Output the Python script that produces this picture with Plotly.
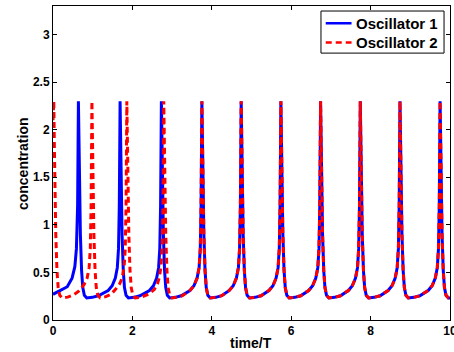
import plotly.graph_objects as go

# Oscillator 1 (blue, solid)
t_osc1 = [
    0.00, 0.19, 0.36, 0.48, 0.55, 0.59, 0.62, 0.64,
    0.655, 0.67, 0.69, 0.72, 0.75, 0.79, 0.85, 0.99, 1.14, 1.39, 1.49, 1.57, 1.62, 1.65, 1.67, 1.69,
    1.705, 1.72, 1.74, 1.77, 1.80, 1.84, 1.90, 2.04, 2.19, 2.43, 2.53, 2.61, 2.66, 2.69, 2.71, 2.73,
    2.745, 2.76, 2.78, 2.81, 2.84, 2.88, 2.94, 3.08, 3.23, 3.45, 3.55, 3.63, 3.68, 3.71, 3.73, 3.75,
    3.765, 3.78, 3.80, 3.83, 3.86, 3.90, 3.96, 4.10, 4.25, 4.44, 4.54, 4.62, 4.67, 4.70, 4.72, 4.74,
    4.755, 4.77, 4.79, 4.82, 4.85, 4.89, 4.95, 5.09, 5.24, 5.44, 5.54, 5.62, 5.67, 5.70, 5.72, 5.74,
    5.755, 5.77, 5.79, 5.82, 5.85, 5.89, 5.95, 6.09, 6.24, 6.44, 6.54, 6.62, 6.67, 6.70, 6.72, 6.74,
    6.755, 6.77, 6.79, 6.82, 6.85, 6.89, 6.95, 7.09, 7.24, 7.44, 7.54, 7.62, 7.67, 7.70, 7.72, 7.74,
    7.755, 7.77, 7.79, 7.82, 7.85, 7.89, 7.95, 8.09, 8.24, 8.44, 8.54, 8.62, 8.67, 8.70, 8.72, 8.74,
    8.755, 8.77, 8.79, 8.82, 8.85, 8.89, 8.95, 9.09, 9.24, 9.45, 9.55, 9.63, 9.68, 9.71, 9.73, 9.75,
    9.765, 9.78, 9.80, 9.83, 9.86, 9.90, 9.96, 10.00,
]
c_osc1 = [
    0.27, 0.31, 0.35, 0.44, 0.56, 0.75, 1.20, 2.30,
    1.80, 1.35, 0.90, 0.52, 0.34, 0.26, 0.232, 0.238, 0.255, 0.31, 0.36, 0.44, 0.55, 0.75, 1.20, 2.30,
    1.80, 1.35, 0.90, 0.52, 0.34, 0.26, 0.232, 0.238, 0.255, 0.31, 0.36, 0.44, 0.55, 0.75, 1.20, 2.30,
    1.80, 1.35, 0.90, 0.52, 0.34, 0.26, 0.232, 0.238, 0.255, 0.31, 0.36, 0.44, 0.55, 0.75, 1.20, 2.30,
    1.80, 1.35, 0.90, 0.52, 0.34, 0.26, 0.232, 0.238, 0.255, 0.31, 0.36, 0.44, 0.55, 0.75, 1.20, 2.30,
    1.80, 1.35, 0.90, 0.52, 0.34, 0.26, 0.232, 0.238, 0.255, 0.31, 0.36, 0.44, 0.55, 0.75, 1.20, 2.30,
    1.80, 1.35, 0.90, 0.52, 0.34, 0.26, 0.232, 0.238, 0.255, 0.31, 0.36, 0.44, 0.55, 0.75, 1.20, 2.30,
    1.80, 1.35, 0.90, 0.52, 0.34, 0.26, 0.232, 0.238, 0.255, 0.31, 0.36, 0.44, 0.55, 0.75, 1.20, 2.30,
    1.80, 1.35, 0.90, 0.52, 0.34, 0.26, 0.232, 0.238, 0.255, 0.31, 0.36, 0.44, 0.55, 0.75, 1.20, 2.30,
    1.80, 1.35, 0.90, 0.52, 0.34, 0.26, 0.232, 0.238, 0.255, 0.31, 0.36, 0.44, 0.55, 0.75, 1.20, 2.30,
    1.80, 1.35, 0.90, 0.52, 0.34, 0.26, 0.232, 0.232,
]

# Oscillator 2 (red, dashed)
t_osc2 = [
    0.00, 0.02,
    0.035, 0.05, 0.07, 0.10, 0.13, 0.17, 0.23, 0.37, 0.52, 0.64, 0.78, 0.86, 0.91, 0.94, 0.96, 0.98,
    0.995, 1.01, 1.03, 1.06, 1.09, 1.13, 1.19, 1.33, 1.46, 1.57, 1.68, 1.74, 1.79, 1.82, 1.84, 1.86,
    1.875, 1.89, 1.91, 1.94, 1.97, 2.01, 2.07, 2.21, 2.41, 2.55, 2.63, 2.68, 2.72, 2.75, 2.77, 2.79,
    2.805, 2.82, 2.84, 2.87, 2.90, 2.94, 3.00, 3.12, 3.26, 3.45, 3.55, 3.63, 3.68, 3.71, 3.73, 3.75,
    3.765, 3.78, 3.80, 3.83, 3.86, 3.90, 3.96, 4.10, 4.25, 4.44, 4.54, 4.62, 4.67, 4.70, 4.72, 4.74,
    4.755, 4.77, 4.79, 4.82, 4.85, 4.89, 4.95, 5.09, 5.24, 5.44, 5.54, 5.62, 5.67, 5.70, 5.72, 5.74,
    5.755, 5.77, 5.79, 5.82, 5.85, 5.89, 5.95, 6.09, 6.24, 6.44, 6.54, 6.62, 6.67, 6.70, 6.72, 6.74,
    6.755, 6.77, 6.79, 6.82, 6.85, 6.89, 6.95, 7.09, 7.24, 7.44, 7.54, 7.62, 7.67, 7.70, 7.72, 7.74,
    7.755, 7.77, 7.79, 7.82, 7.85, 7.89, 7.95, 8.09, 8.24, 8.44, 8.54, 8.62, 8.67, 8.70, 8.72, 8.74,
    8.755, 8.77, 8.79, 8.82, 8.85, 8.89, 8.95, 9.09, 9.24, 9.45, 9.55, 9.63, 9.68, 9.71, 9.73, 9.75,
    9.765, 9.78, 9.80, 9.83, 9.86, 9.90, 9.96, 10.00,
]
c_osc2 = [
    2.10, 2.30,
    1.80, 1.35, 0.90, 0.52, 0.34, 0.26, 0.232, 0.240, 0.265, 0.30, 0.37, 0.44, 0.55, 0.75, 1.20, 2.30,
    1.80, 1.35, 0.90, 0.52, 0.34, 0.26, 0.232, 0.245, 0.27, 0.32, 0.38, 0.44, 0.55, 0.75, 1.20, 2.30,
    1.80, 1.35, 0.90, 0.52, 0.34, 0.26, 0.232, 0.240, 0.27, 0.32, 0.38, 0.45, 0.56, 0.78, 1.20, 2.30,
    1.80, 1.35, 0.90, 0.52, 0.34, 0.26, 0.232, 0.238, 0.255, 0.31, 0.36, 0.44, 0.55, 0.75, 1.20, 2.30,
    1.80, 1.35, 0.90, 0.52, 0.34, 0.26, 0.232, 0.238, 0.255, 0.31, 0.36, 0.44, 0.55, 0.75, 1.20, 2.30,
    1.80, 1.35, 0.90, 0.52, 0.34, 0.26, 0.232, 0.238, 0.255, 0.31, 0.36, 0.44, 0.55, 0.75, 1.20, 2.30,
    1.80, 1.35, 0.90, 0.52, 0.34, 0.26, 0.232, 0.238, 0.255, 0.31, 0.36, 0.44, 0.55, 0.75, 1.20, 2.30,
    1.80, 1.35, 0.90, 0.52, 0.34, 0.26, 0.232, 0.238, 0.255, 0.31, 0.36, 0.44, 0.55, 0.75, 1.20, 2.30,
    1.80, 1.35, 0.90, 0.52, 0.34, 0.26, 0.232, 0.238, 0.255, 0.31, 0.36, 0.44, 0.55, 0.75, 1.20, 2.30,
    1.80, 1.35, 0.90, 0.52, 0.34, 0.26, 0.232, 0.238, 0.255, 0.31, 0.36, 0.44, 0.55, 0.75, 1.20, 2.30,
    1.80, 1.35, 0.90, 0.52, 0.34, 0.26, 0.232, 0.232,
]

series_names = ["Oscillator 1", "Oscillator 2"]
x_ticks = [0, 2, 4, 6, 8, 10]
x_tick_labels = ["0", "2", "4", "6", "8", "10"]
y_ticks = [0, 0.5, 1, 1.5, 2, 2.5, 3]
y_tick_labels = ["0", "0.5", "1", "1.5", "2", "2.5", "3"]

FONT = "Liberation Sans, Arial, sans-serif"
COLORS = ["#0000ff", "#ff0000"]
DASHES = ["solid", "6px,4px"]

fig = go.Figure()
fig.add_trace(go.Scatter(x=t_osc1, y=c_osc1, mode="lines", name=series_names[0],
                         showlegend=False,
                         line=dict(color=COLORS[0], width=3, dash=DASHES[0])))
fig.add_trace(go.Scatter(x=t_osc2, y=c_osc2, mode="lines", name=series_names[1],
                         showlegend=False,
                         line=dict(color=COLORS[1], width=3, dash=DASHES[1])))

axis_common = dict(showline=True, linecolor="black", linewidth=1, mirror="ticks",
                   ticks="inside", ticklen=4, tickcolor="black", showgrid=False,
                   zeroline=False, automargin=False, ticklabeloverflow="allow",
                   tickfont=dict(family=FONT, size=12, color="black"))

# Legend box (MATLAB style) drawn in paper coordinates
shapes = [dict(type="rect", xref="paper", yref="paper", x0=0.675, x1=0.985,
               y0=0.850, y1=0.984, line=dict(color="black", width=1),
               fillcolor="white", layer="above")]
annotations = []
row_y = [0.945, 0.884]
for name, col, dash, yy in zip(series_names, COLORS, DASHES, row_y):
    shapes.append(dict(type="line", xref="paper", yref="paper", x0=0.687, x1=0.752,
                       y0=yy, y1=yy, line=dict(color=col, width=2.5, dash=dash),
                       layer="above"))
    annotations.append(dict(text="<b>%s</b>" % name, xref="paper", yref="paper",
                            x=0.758, y=yy, xanchor="left", yanchor="middle",
                            showarrow=False,
                            font=dict(family=FONT, size=15, color="black")))

annotations += [
    dict(text="<b>concentration</b>", xref="paper", yref="paper",
         x=-0.077, y=0.498, xanchor="center", yanchor="middle", textangle=-90,
         showarrow=False, font=dict(family=FONT, size=14, color="black")),
    dict(text="<b>time/T</b>", xref="paper", yref="paper",
         x=0.498, y=-0.073, xanchor="center", yanchor="middle",
         showarrow=False, font=dict(family=FONT, size=14, color="black")),
]

fig.update_layout(
    width=454, height=352,
    margin=dict(l=53, r=4, t=6, b=32, autoexpand=False),
    paper_bgcolor="white", plot_bgcolor="white",
    font=dict(family=FONT, color="black"),
    xaxis=dict(range=[0, 10], tickvals=x_ticks,
               ticktext=["<b>%s</b>" % s for s in x_tick_labels],
               **axis_common),
    yaxis=dict(range=[0, 3.3], tickvals=y_ticks,
               ticktext=["<b>%s</b>" % s for s in y_tick_labels],
               **axis_common),
    showlegend=False,
    shapes=shapes,
    annotations=annotations,
)

fig.write_html("out.html", config={"displayModeBar": False},
               post_script="document.body.style.margin='0';")
